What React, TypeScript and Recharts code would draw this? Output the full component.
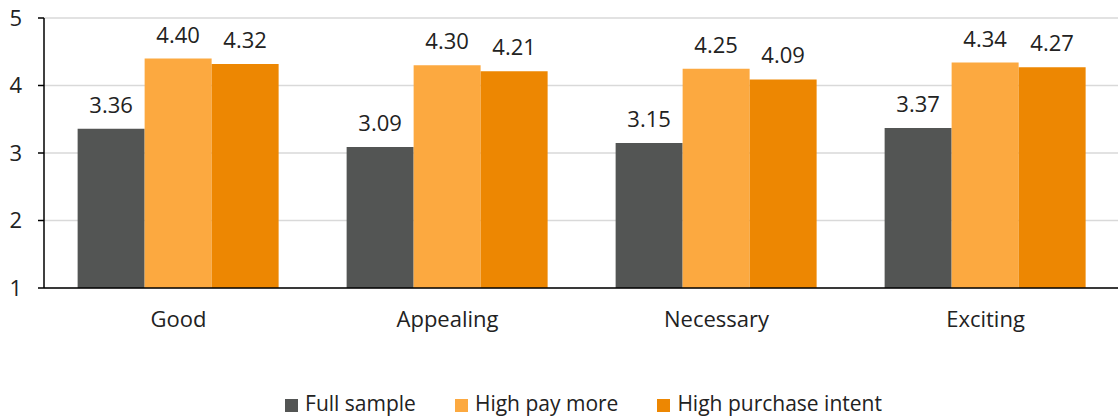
import React from 'react';
import { BarChart, Bar, XAxis, YAxis, CartesianGrid, Legend, LabelList } from 'recharts';

const categories = ['Good', 'Appealing', 'Necessary', 'Exciting'];
const fullSample = [3.36, 3.09, 3.15, 3.37];
const highPayMore = [4.40, 4.30, 4.25, 4.34];
const highPurchaseIntent = [4.32, 4.21, 4.09, 4.27];
const yTicks = [1, 2, 3, 4, 5];

const data = categories.map((name, i) => ({
  name,
  full: fullSample[i],
  pay: highPayMore[i],
  intent: highPurchaseIntent[i],
}));

const FONT = '"Open Sans", Lato, sans-serif';
const fmt = (v: number) => v.toFixed(2);

export default function App() {
  return (
    <div style={{ position: 'absolute', left: 0, top: 0, fontFamily: FONT }}>
      <BarChart
        width={1120}
        height={417}
        data={data}
        margin={{ top: 18, right: 0, left: 0, bottom: 2 }}
        barCategoryGap="12.5%"
        barGap={0}
      >
        <CartesianGrid vertical={false} stroke="#d9d9d9" strokeWidth={1.5} />
        <XAxis
          dataKey="name"
          tickLine={false}
          axisLine={{ stroke: '#000', strokeWidth: 1.5 }}
          tick={{ fill: '#222', fontSize: 22, fontFamily: FONT }}
          tickMargin={17}
          height={103}
        />
        <YAxis
          domain={[1, 5]}
          ticks={yTicks}
          width={44}
          tickSize={6}
          tickLine={{ stroke: '#000', strokeWidth: 1.5 }}
          axisLine={{ stroke: '#000', strokeWidth: 1.5 }}
          tick={{ fill: '#222', fontSize: 22, fontFamily: FONT }}
          tickMargin={16}
          interval={0}
        />
        <Legend
          verticalAlign="bottom"
          iconType="square"
          iconSize={13}
          wrapperStyle={{ fontSize: 21, fontFamily: FONT, lineHeight: '24px', boxSizing: 'border-box', paddingLeft: 57 }}
          formatter={(value: string, _entry: unknown, index: number) => (
            <span style={{ color: '#222', marginLeft: 3, marginRight: index < 2 ? 29 : 0 }}>{value}</span>
          )}
        />
        <Bar dataKey="full" name="Full sample" fill="#535554" isAnimationActive={false}>
          <LabelList dataKey="full" position="top" offset={16} formatter={fmt} fill="#222" fontSize={22} fontFamily={FONT} />
        </Bar>
        <Bar dataKey="pay" name="High pay more" fill="#FCA940" isAnimationActive={false}>
          <LabelList dataKey="pay" position="top" offset={16} formatter={fmt} fill="#222" fontSize={22} fontFamily={FONT} />
        </Bar>
        <Bar dataKey="intent" name="High purchase intent" fill="#ED8702" isAnimationActive={false}>
          <LabelList dataKey="intent" position="top" offset={16} formatter={fmt} fill="#222" fontSize={22} fontFamily={FONT} />
        </Bar>
      </BarChart>
    </div>
  );
}
